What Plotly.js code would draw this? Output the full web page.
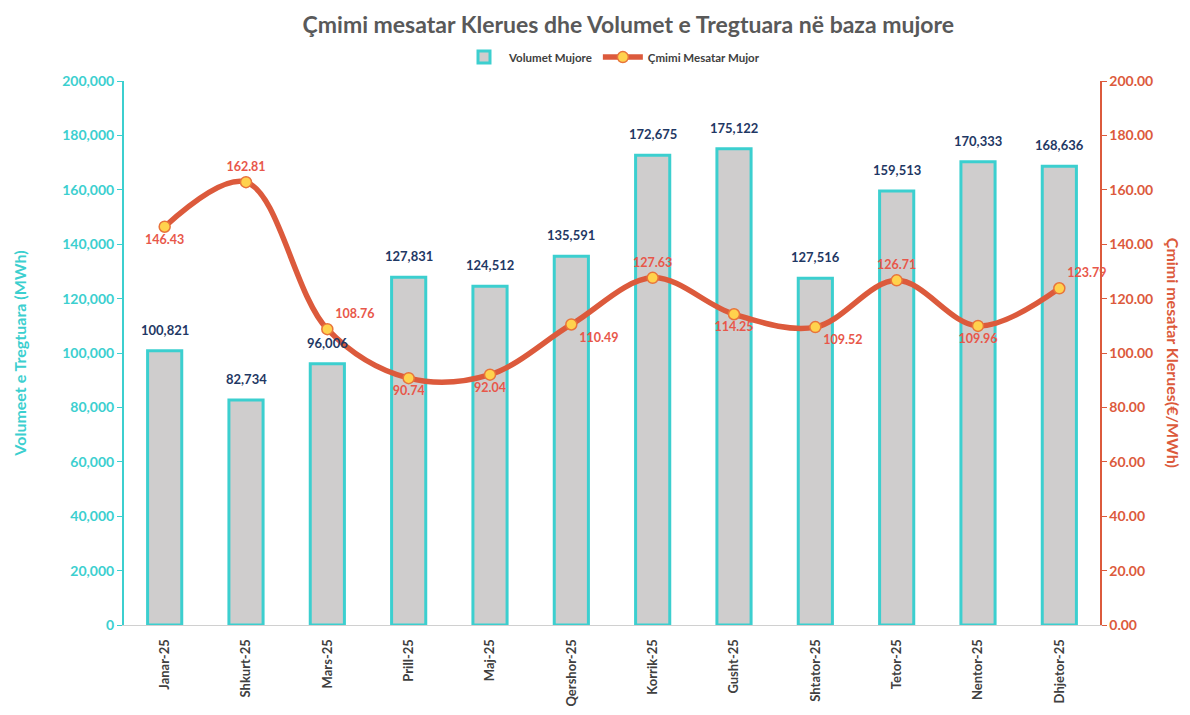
<!DOCTYPE html>
<html>
<head>
<meta charset="utf-8">
<script src="https://cdn.plot.ly/plotly-3.0.1.min.js"></script>
<style>html,body{margin:0;padding:0;background:#fff;}#chart{width:1190px;height:715px;}</style>
</head>
<body>
<div id="chart"></div>
<script>
const months = ["Janar-25","Shkurt-25","Mars-25","Prill-25","Maj-25","Qershor-25","Korrik-25","Gusht-25","Shtator-25","Tetor-25","Nentor-25","Dhjetor-25"];
const volumes = [100821, 82734, 96006, 127831, 124512, 135591, 172675, 175122, 127516, 159513, 170333, 168636];
const prices = [146.43, 162.81, 108.76, 90.74, 92.04, 110.49, 127.63, 114.25, 109.52, 126.71, 109.96, 123.79];
const priceLabelPos = ["bottom center","top center","top right","bottom center","bottom center","bottom right","top center","bottom center","bottom right","top center","bottom center","top right"];

const FONT = "Lato, 'Open Sans', sans-serif";
const TEAL = "#3ccfcf";
const RED = "#dc5a3c";

const barTrace = {
  type: "bar",
  name: "Volumet Mujore",
  x: months,
  y: volumes,
  width: 0.42,
  marker: {color: "#cfcdcd", line: {color: TEAL, width: 3}},
  hoverinfo: "x+y"
};

const lineTrace = {
  type: "scatter",
  mode: "lines+markers+text",
  name: "Çmimi Mesatar Mujor",
  x: months,
  y: prices,
  yaxis: "y2",
  line: {color: RED, width: 5.5, shape: "spline", smoothing: 1},
  marker: {size: 11, color: "#ffd24d", line: {color: "#e8743b", width: 1.5}},
  text: prices.map(v => v.toFixed(2)),
  textposition: priceLabelPos,
  textfont: {family: FONT, size: 12.5, color: "#e8574a", weight: "bold"},
  cliponaxis: false
};

const barLabels = months.map((m, i) => ({
  x: m, y: volumes[i], xref: "x", yref: "y",
  text: volumes[i].toLocaleString("en-US"),
  showarrow: false, yanchor: "bottom", yshift: 11,
  font: {family: FONT, size: 13, color: "#1f3864", weight: "bold"}
}));

const layout = {
  width: 1190,
  height: 715,
  paper_bgcolor: "#ffffff",
  plot_bgcolor: "#ffffff",
  font: {family: FONT},
  margin: {l: 124, r: 90, t: 81, b: 90},
  title: {
    text: "Çmimi mesatar Klerues dhe Volumet e Tregtuara në baza mujore",
    font: {family: FONT, size: 23, color: "#595959", weight: "bold"},
    x: 0.528, xanchor: "center", y: 0.965, yanchor: "middle"
  },
  showlegend: true,
  legend: {
    orientation: "h",
    x: 0.5, xanchor: "center",
    y: 1.044, yanchor: "middle",
    font: {family: FONT, size: 11.5, color: "#404040", weight: "bold"},
    itemwidth: 40,
    traceorder: "normal"
  },
  xaxis: {
    type: "category",
    range: [-0.5, 11.5],
    tickangle: -90,
    tickfont: {family: FONT, size: 13, color: "#404040", weight: "bold"},
    showline: true,
    linecolor: "#d0d0d0",
    linewidth: 1,
    ticks: "outside",
    ticklen: 8,
    tickcolor: "rgba(0,0,0,0)",
    showgrid: false,
    zeroline: false,
    fixedrange: true
  },
  yaxis: {
    range: [0, 200000],
    dtick: 20000,
    tickformat: ",",
    tickfont: {family: FONT, size: 14, color: TEAL, weight: "bold"},
    showline: true,
    linecolor: TEAL,
    linewidth: 2,
    ticks: "outside",
    ticklen: 5,
    tickcolor: TEAL,
    showgrid: false,
    zeroline: false,
    title: {text: "Volumeet e Tregtuara (MWh)", font: {family: FONT, size: 16, color: TEAL, weight: "bold"}, standoff: 32}
  },
  yaxis2: {
    overlaying: "y",
    side: "right",
    range: [0, 200],
    dtick: 20,
    tickformat: ".2f",
    tickfont: {family: FONT, size: 14, color: RED, weight: "bold"},
    showline: true,
    linecolor: RED,
    linewidth: 1.5,
    ticks: "outside",
    ticklen: 5,
    tickcolor: RED,
    showgrid: false,
    zeroline: false
  },
  annotations: barLabels.concat([{
    text: "Çmimi mesatar Klerues(€/MWh)",
    textangle: 90,
    xref: "paper", yref: "paper",
    x: 1.076, xanchor: "center",
    y: 0.5, yanchor: "middle",
    showarrow: false,
    font: {family: FONT, size: 16, color: RED, weight: "bold"}
  }])
};

Plotly.newPlot("chart", [barTrace, lineTrace], layout, {displayModeBar: false, staticPlot: true});
</script>
</body>
</html>
